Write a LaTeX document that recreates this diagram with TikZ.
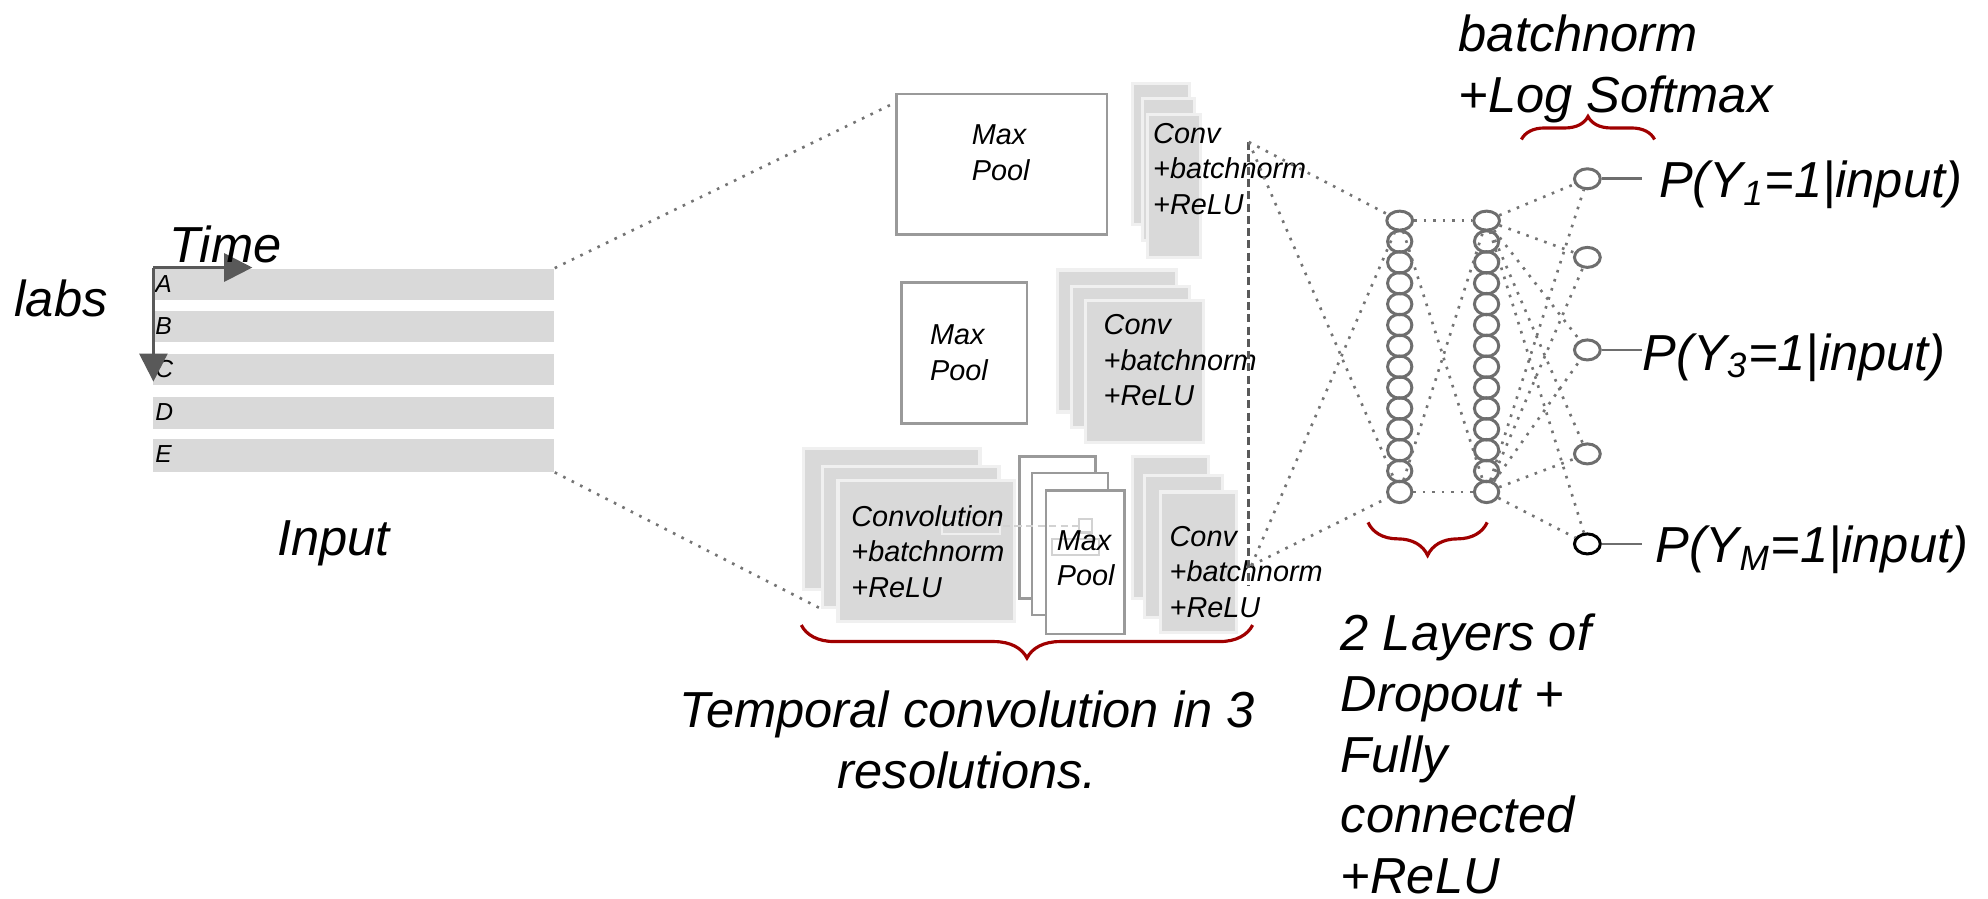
\documentclass[tikz,border=0pt]{standalone}
\usepackage{fontspec}
\setmainfont{Liberation Sans}
\usetikzlibrary{arrows.meta,shapes.geometric,fit,decorations.pathreplacing,calc}

\definecolor{boxgray}{HTML}{D9D9D9}
\definecolor{boxedge}{HTML}{F0F0F0}
\definecolor{poolline}{HTML}{9A9A9A}
\definecolor{dotgray}{HTML}{747474}
\definecolor{darkgray}{HTML}{595959}
\definecolor{unitgray}{HTML}{6E6E6E}
\definecolor{bracered}{HTML}{A00000}
\definecolor{faintline}{HTML}{D2D2D2}
\definecolor{faintlight}{HTML}{EFEFEF}

% left-aligned / centred multi-line text whose baseline is the first line
\newcommand\stackL[1]{\begin{tabular}[t]{@{}l@{}}#1\end{tabular}}
\newcommand\stackC[1]{\begin{tabular}[t]{@{}c@{}}#1\end{tabular}}

\begin{document}
\begin{tikzpicture}[x=0.01268cm, y=-0.01268cm,
  big/.style={font=\fontsize{14.4}{17.3}\selectfont\itshape, inner sep=0pt},
  boxtext/.style={font=\fontsize{8.2}{10.1}\selectfont\itshape, inner sep=0pt, anchor=base west},
  letter/.style={font=\fontsize{7}{8}\selectfont\itshape, inner sep=0pt, anchor=base west},
  band/.style={fill=boxgray, draw=none, inner sep=0pt},
  graybox/.style={fill=boxgray, draw=boxedge, line width=0.9pt, inner sep=0pt},
  whitebox/.style={fill=white, draw=poolline, line width=0.75pt, inner sep=0pt},
  dotted link/.style={draw=dotgray, line width=0.75pt, dash pattern=on 0.75pt off 1.95pt},
  concat/.style={draw=darkgray, line width=0.85pt, dash pattern=on 2.3pt off 1.2pt},
  axis/.style={draw=darkgray, line width=0.7pt, -{Triangle[length=8pt,width=8pt]}},
  unit/.style={ellipse, draw=unitgray, line width=0.85pt, inner sep=0pt,
               minimum width=0.243cm, minimum height=0.214cm},
  topunit/.style={ellipse, draw=unitgray, line width=0.85pt, inner sep=0pt,
               minimum width=0.258cm, minimum height=0.190cm},
  outunit/.style={ellipse, draw=unitgray, line width=0.85pt, inner sep=0pt,
               minimum width=0.258cm, minimum height=0.200cm},
  lead/.style={draw=unitgray, line width=0.75pt},
  curly/.style={draw=bracered, line width=0.9pt, decorate,
               decoration={brace, amplitude=#1}},
]
\useasboundingbox (0,0) rectangle (1568,709);

% ---------------- input: one band per lab
\node[band, fit={(121,212) (437,237)}] (rowA) {};
\node[band, fit={(121,245) (437,270)}] (rowB) {};
\node[band, fit={(121,279) (437,304)}] (rowC) {};
\node[band, fit={(121,313) (437,338)}] (rowD) {};
\node[band, fit={(121,346) (437,372)}] (rowE) {};
\node[letter] (lA) at (122,231) {A};
\node[letter] (lB) at (122,264) {B};
\node[letter] (lC) at (122,298) {C};
\node[letter] (lD) at (122,332) {D};
\node[letter] (lE) at (122,365) {E};

\coordinate (orig) at (121,211);
\coordinate (tEnd) at (199,211);
\coordinate (lEnd) at (121,301);
\draw[axis] (orig) -- (tEnd);
\draw[axis] (orig) -- (lEnd);

\node[big, anchor=base west] (labs) at (11,250) {labs};
\node[big, anchor=base west] (time) at (133,207) {Time};
\node[big, anchor=base west] (input) at (218,438) {Input};

% ---------------- first resolution
\node[whitebox, fit={(707,74) (873,185)}] (mpA) {};
\node[graybox, fit={(893,66) (938,177)}] (cvA1) {};
\node[graybox, fit={(901,78) (942,190)}] (cvA2) {};
\node[graybox, fit={(905,90) (947,203)}] (cvA3) {};

% ---------------- second resolution
\node[whitebox, fit={(711,223) (810,334)}] (mpB) {};
\node[graybox, fit={(834,213) (928,325)}] (cvB1) {};
\node[graybox, fit={(845,226) (938,337)}] (cvB2) {};
\node[graybox, fit={(856,237) (949,349)}] (cvB3) {};

% ---------------- third resolution
\node[graybox, fit={(634,354) (773,465)}] (cvC1) {};
\node[graybox, fit={(649,368) (788,479)}] (cvC2) {};
\node[graybox, fit={(661,379) (800,490)}] (cvC3) {};
\node[whitebox, fit={(804,360) (864,472)}] (mpC1) {};
\node[whitebox, fit={(814,373) (874,485)}] (mpC2) {};
\node[whitebox, fit={(825,387) (887,500)}] (mpC3) {};
\node[graybox, fit={(893,360) (953,472)}] (cvD1) {};
\node[graybox, fit={(903,375) (964,487)}] (cvD2) {};
\node[graybox, fit={(915,388) (975,499)}] (cvD3) {};

% faint leftovers between the convolution and pooling blocks
\draw[faintlight, line width=0.6pt] (743,409) rectangle (789,421);
\draw[faintline, line width=0.7pt, dash pattern=on 2pt off 1.3pt] (791,415) -- (851,415);
\draw[faintline, line width=0.6pt] (851,409) rectangle (861,420);
\draw[faintline, line width=0.6pt] (830,425) rectangle (867,438);

% block captions
\node[boxtext] (mpAt) at (766,114) {\stackL{Max\\Pool}};
\node[boxtext] (cvAt) at (909,113) {\stackL{Conv\\+batchnorm\\+ReLU}};
\node[boxtext] (mpBt) at (733,272) {\stackL{Max\\Pool}};
\node[boxtext] (cvBt) at (870,264) {\stackL{Conv\\+batchnorm\\+ReLU}};
\node[boxtext] (cvCt) at (671,415) {\stackL{Convolution\\+batchnorm\\+ReLU}};
\node[boxtext] (mpCt) at (833,434) {\stackL{Max\\Pool}};
\node[boxtext] (cvDt) at (922,431) {\stackL{Conv\\+batchnorm\\+ReLU}};

% input fans out to the resolutions
\draw[dotted link] (rowA.north east) -- ($(mpA.north west)+(0,8)$);
\draw[dotted link] (rowE.south east) -- (cvC2.south west);

% ---------------- concatenation
\coordinate (catA) at (985,112);
\coordinate (catB) at (987,446);
\coordinate (catEnd) at (985,462);
\draw[concat] (catA) -- (catEnd);

% ---------------- two fully connected layers
\node[topunit] (a1) at (1104,174) {};
\node[topunit] (b1) at (1172.5,174) {};
\foreach \k in {2,...,14} {
  \pgfmathsetmacro\yy{174+(\k-1)*16.46}
  \node[unit] (a\k) at (1104,\yy) {};
  \node[unit] (b\k) at (1172.5,\yy) {};
}

% ---------------- outputs
\node[outunit] (o1) at (1252,141) {};
\node[outunit] (o2) at (1252,203) {};
\node[outunit] (o3) at (1252,276) {};
\node[outunit] (o4) at (1252,358) {};
\node[outunit, draw=black] (o5) at (1252,429) {};

% connections
\foreach \s in {catA,catB}
  \foreach \t in {a1,a14}
    \draw[dotted link] (\s) -- (\t);
\draw[dotted link] (a1) -- (b1);
\draw[dotted link] (a14) -- (b14);
\draw[dotted link] (a1) -- (b14);
\draw[dotted link] (a14) -- (b1);
\foreach \s in {b1,b14}
  \foreach \t in {o1,o2,o3,o4,o5}
    \draw[dotted link] (\s) -- (\t);

\coordinate (e1) at (1295,141);
\coordinate (e3) at (1295,276);
\coordinate (e5) at (1295,429);
\draw[lead] (o1) -- (e1);
\draw[lead] (o3) -- (e3);
\draw[lead] (o5) -- (e5);
\node[big, anchor=base west] (p1) at (1308,156) {P(Y\textsubscript{1}=1|input)};
\node[big, anchor=base west] (p3) at (1295,292) {P(Y\textsubscript{3}=1|input)};
\node[big, anchor=base west] (pM) at (1305,444) {P(Y\textsubscript{M}=1|input)};

% ---------------- captions and braces
\node[big, anchor=base west] (smax) at (1150,41) {\stackL{batchnorm\\+Log Softmax}};
\node[big, anchor=base west] (fc) at (1057,513) {\stackL{2 Layers of\\Dropout +\\Fully\\connected\\+ReLU}};
\node[big, anchor=base] (tconv) at (763,574) {\stackC{Temporal convolution in 3\\resolutions.}};

\draw[curly=0.33cm] (988,493) -- (632,493);
\draw[curly=0.33cm] (1173,412) -- (1079,412);
\draw[curly=0.23cm] (1200,110) -- (1305,110);
\end{tikzpicture}
\end{document}
